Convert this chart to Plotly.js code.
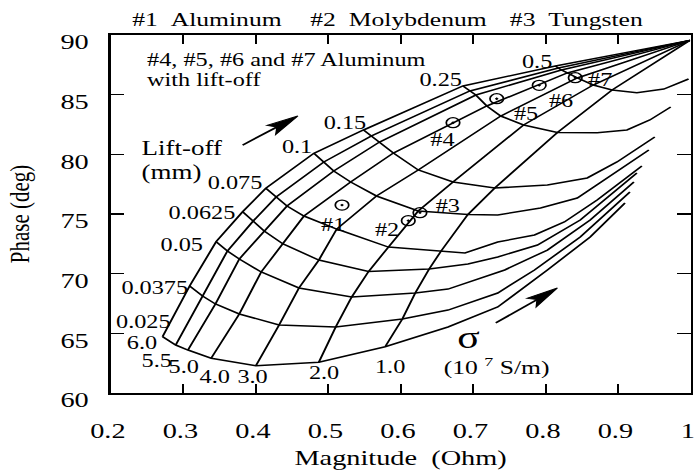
<!DOCTYPE html>
<html><head><meta charset="utf-8">
<script src="https://cdn.plot.ly/plotly-3.0.1.min.js"></script>
<style>
html,body{margin:0;padding:0;background:#fff;overflow:hidden;}
#wrap{width:696px;height:470px;overflow:hidden;position:relative;background:#fff;}
#chart{width:516px;height:470px;transform:scaleX(1.3488);transform-origin:0 0;}
</style></head><body>
<div id="wrap"><div id="chart"></div></div>
<script>
// ---------- data ----------
// sigma values (10^7 S/m) for the constant-conductivity lines (columns of the grid)
const sigmaLabels = ['6.0','5.5','5.0','4.0','3.0','2.0','1.0'];
// lift-off values (mm) for the constant-lift-off curves
const liftOffLabels = ['0.025','0.0375','0.05','0.0625','0.075','0.1','0.15','0.25','0.5'];

// grid nodes: magnitude / phase of each lift-off curve at sigma = 6.0 ... 1.0
const mag025  = [0.2716,0.2898,0.3067,0.3387,0.4004,0.4872,0.5787];
const ph025   = [64.72,64.02,63.60,62.91,62.29,62.57,63.88];
const mag0375 = [0.3090,0.3268,0.3446,0.3775,0.4324,0.5105,0.6024];
const ph0375  = [68.97,68.13,67.46,66.62,65.70,65.53,66.20];
const mag05   = [0.3456,0.3611,0.3775,0.4077,0.4598,0.5325,0.6202];
const ph05    = [72.68,71.90,71.23,70.14,68.80,68.04,68.38];
const mag0625 = [0.3821,0.3967,0.4118,0.4379,0.4872,0.5558,0.6394];
const ph0625  = [75.19,74.41,73.58,72.49,71.14,70.18,70.39];
const mag075  = [0.4141,0.4283,0.4433,0.4667,0.5119,0.5832,0.6559];
const ph075   = [77.15,76.42,75.67,74.83,73.74,72.23,71.90];
const mag1    = [0.4804,0.4941,0.5078,0.5311,0.5667,0.6243,0.6929];
const ph1     = [80.09,79.36,78.60,77.68,76.51,75.25,74.96];
const mag15   = [0.5489,0.5599,0.5709,0.5900,0.6243,0.6723,0.7299];
const ph15    = [82.04,81.54,81.03,80.11,78.69,77.68,77.18];
const mag25   = [0.6860,0.6956,0.7038,0.7189,0.7381,0.7696,0.8163];
const ph25    = [85.73,85.31,84.97,84.05,83.21,82.46,81.83];
const mag5    = [0.8135,0.8176,0.8217,0.8300,0.8437,0.8656,0.8917];
const ph5     = [87.40,87.23,87.07,86.82,86.40,85.81,85.39];

// continuation of each lift-off curve below sigma = 1.0
const tailMag025  = [0.6654,0.7340,0.8025,0.8615,0.9095];
const tailPh025   = [65.53,67.21,70.31,73.07,75.92];
const tailMag0375 = [0.6654,0.7340,0.7847,0.8478,0.9163];
const tailPh0375  = [66.95,68.38,70.31,73.07,76.84];
const tailMag05   = [0.6654,0.7436,0.8025,0.8615,0.9218];
const tailPh05    = [68.71,70.31,71.98,74.50,77.68];
const tailMag0625 = [0.6929,0.7340,0.7888,0.8478,0.9259];
const tailPh0625  = [70.81,71.40,72.40,74.50,78.44];
const tailMag075  = [0.6888,0.7340,0.7847,0.8259,0.8711,0.9328];
const tailPh075   = [71.73,72.65,73.24,74.33,76.17,79.02];
const tailMag1    = [0.7340,0.7930,0.8437,0.8848,0.9424];
const tailPh1     = [74.92,75.50,76.34,78.02,80.36];
const tailMag15   = [0.8025,0.8574,0.8985,0.9506];
const tailPh15    = [77.43,78.02,79.36,81.45];
const tailMag25   = [0.8711,0.9122,0.9438,0.9726];
const tailPh25    = [81.81,82.04,82.88,83.97];
const tailMag5    = [0.9259,0.9630,0.9972];
const tailPh5     = [85.16,85.47,86.31];

// all sigma lines converge here (large lift-off)
const convergeMag = 0.999;
const convergePh  = 89.55;

// measured samples
const sampleNames = ['#1','#2','#3','#4','#5','#6','#7'];
const sampleMag   = [0.5192,0.6106,0.6267,0.6723,0.7326,0.7912,0.8409];
const samplePh    = [75.75,74.44,75.11,82.65,84.66,85.78,86.42];

// tick labels
const xTickVals = [0.2,0.3,0.4,0.5,0.6,0.7,0.8,0.9,1.0];
const xTickText = ['0.2','0.3','0.4','0.5','0.6','0.7','0.8','0.9','1'];
const yTickVals = [60,65,70,75,80,85,90];

// label positions
const liftLabelMag = [0.2459,0.2610,0.2980,0.3268,0.3721,0.4571,0.5242,0.6559,0.7888];
const liftLabelPh  = [65.95,68.80,72.40,75.08,77.60,80.61,82.63,86.23,87.74];
const sigmaLabelMag = [0.2446,0.2638,0.3021,0.3433,0.3967,0.4941,0.5859];
const sigmaLabelPh  = [64.19,62.68,62.18,61.34,61.34,61.68,62.18];
const sampleLabelMag = [0.5064,0.5805,0.6654,0.6572,0.7724,0.8217,0.8752];
const sampleLabelPh  = [74.08,73.66,75.67,81.20,83.38,84.47,86.23];

const liftArrowTail = [0.3821,80.78], liftArrowHead = [0.4583,83.21];
const sigmaArrowTail = [0.7313,65.87], sigmaArrowHead = [0.8163,68.80];

// ---------- build ----------
const FONT = 'Liberation Serif, Times New Roman, serif';
const nodeMag = [mag025,mag0375,mag05,mag0625,mag075,mag1,mag15,mag25,mag5];
const nodePh  = [ph025,ph0375,ph05,ph0625,ph075,ph1,ph15,ph25,ph5];
const tailMag = [tailMag025,tailMag0375,tailMag05,tailMag0625,tailMag075,tailMag1,tailMag15,tailMag25,tailMag5];
const tailPh  = [tailPh025,tailPh0375,tailPh05,tailPh0625,tailPh075,tailPh1,tailPh15,tailPh25,tailPh5];

const LW = 1.5;
const traces = [];
liftOffLabels.forEach((lab,i)=>{
  traces.push({type:'scatter',mode:'lines',name:'lift-off '+lab,
    x: nodeMag[i].concat(tailMag[i]), y: nodePh[i].concat(tailPh[i]),
    line:{color:'#000',width:LW},hoverinfo:'skip'});
});
sigmaLabels.forEach((lab,j)=>{
  traces.push({type:'scatter',mode:'lines',name:'sigma '+lab,
    x: nodeMag.map(a=>a[j]).concat([convergeMag]),
    y: nodePh.map(a=>a[j]).concat([convergePh]),
    line:{color:'#000',width:LW},hoverinfo:'skip'});
});
traces.push({type:'scatter',mode:'markers',name:'samples',x:sampleMag,y:samplePh,text:sampleNames,
  marker:{symbol:'circle-open-dot',size:10,color:'#000',line:{color:'#000',width:1.3}},hoverinfo:'skip'});

const ann = [];
function txt(t,x,y,size,opts){ ann.push(Object.assign({text:t,x:x,y:y,xref:'x',yref:'y',showarrow:false,
  font:{family:FONT,size:size,color:'#000'},xanchor:'center',yanchor:'middle'},opts||{})); }
liftOffLabels.forEach((t,i)=>txt(t,liftLabelMag[i],liftLabelPh[i],18));
sigmaLabels.forEach((t,i)=>txt(t,sigmaLabelMag[i],sigmaLabelPh[i],18));
sampleNames.forEach((t,i)=>txt(t,sampleLabelMag[i],sampleLabelPh[i],18));
txt('#4, #5, #6 and #7 Aluminum',0.2473,87.90,18,{xanchor:'left'});
txt('with lift-off',0.2473,86.23,18,{xanchor:'left'});
txt('Lift-off',0.2391,80.53,20,{xanchor:'left'});
txt('(mm)',0.2391,78.44,20,{xanchor:'left'});
txt('\u03c3',0.6942,64.61,31);
txt('(10 <sup>7</sup> S/m)',0.7313,62.18,19);
const topY = 1 + 16/358;
const topTitles = ['#1\u00a0\u00a0Aluminum','#2\u00a0\u00a0Molybdenum','#3\u00a0\u00a0Tungsten'];
const topTitleMag = [0.2254,0.4721,0.7463];
topTitles.forEach((t,i)=>ann.push({text:t,x:topTitleMag[i],y:topY,xref:'x',yref:'paper',showarrow:false,
  xanchor:'left',yanchor:'middle',font:{family:FONT,size:19,color:'#000'}}));

// arrows (shaft + filled head computed from tail/head)
const kx = 430/0.8, ky = 358/30;
const shapes = [];
function arrow(tail,head){
  const dx=(head[0]-tail[0])*kx, dy=(head[1]-tail[1])*ky;
  const L=Math.hypot(dx,dy), ux=dx/L, uy=dy/L, nx=-uy, ny=ux;
  const Lh=24, w=5.5, notch=5;
  const P=(a,b)=>[head[0]+a/kx, head[1]+b/ky];
  const c1=P(-ux*Lh+nx*w,-uy*Lh+ny*w), c2=P(-ux*Lh-nx*w,-uy*Lh-ny*w), cn=P(-ux*(Lh-notch),-uy*(Lh-notch));
  shapes.push({type:'line',xref:'x',yref:'y',x0:tail[0],y0:tail[1],x1:cn[0],y1:cn[1],line:{color:'#000',width:1.6}});
  shapes.push({type:'path',xref:'x',yref:'y',
    path:`M${head[0]},${head[1]} L${c1[0]},${c1[1]} L${cn[0]},${cn[1]} L${c2[0]},${c2[1]} Z`,
    fillcolor:'#000',line:{color:'#000',width:1}});
}
arrow(liftArrowTail,liftArrowHead);
arrow(sigmaArrowTail,sigmaArrowHead);

const layout = {
  width:516,height:470,margin:{l:82,r:4,t:35,b:77},
  paper_bgcolor:'#fff',plot_bgcolor:'#fff',showlegend:false,
  font:{family:FONT,color:'#000'},
  xaxis:{range:[0.2,1.0],tickvals:xTickVals,ticktext:xTickText,ticks:'inside',ticklen:9,tickwidth:1.5,tickcolor:'#000',
    mirror:'ticks',showline:true,linewidth:2,linecolor:'#000',showgrid:false,zeroline:false,
    tickfont:{family:FONT,size:21,color:'#000'},ticklabelstandoff:18,ticklabelshift:-2,ticklabeloverflow:'allow',
    title:{text:'Magnitude  (Ohm)',font:{family:FONT,size:21,color:'#000'},standoff:8}},
  yaxis:{range:[60,90],tickvals:yTickVals,ticks:'inside',ticklen:10,tickwidth:1.5,tickcolor:'#000',
    mirror:'ticks',showline:true,linewidth:2,linecolor:'#000',showgrid:false,zeroline:false,
    tickfont:{family:FONT,size:21,color:'#000'},ticklabelstandoff:10,ticklabelshift:7,ticklabeloverflow:'allow',
    title:{text:'Phase (deg)',font:{family:FONT,size:21,color:'#000'},standoff:17}},
  annotations:ann,shapes:shapes
};
Plotly.newPlot('chart',traces,layout,{staticPlot:true,displayModeBar:false});
</script>
</body></html>
